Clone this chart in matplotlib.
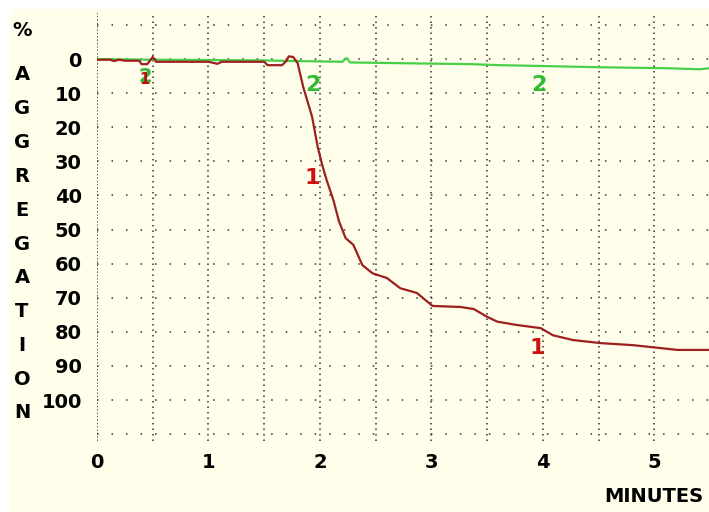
import matplotlib.pyplot as plt
from matplotlib.patches import Rectangle

# curve 1 (red) - aggregation trace
t1 = [0.0, 0.12, 0.15, 0.2, 0.25, 0.38, 0.4, 0.45, 0.5, 0.53, 0.6, 1.0, 1.08, 1.12, 1.5,
      1.53, 1.66, 1.7, 1.72, 1.76, 1.8, 1.85, 1.93, 1.98, 2.02, 2.06, 2.12, 2.17, 2.23,
      2.3, 2.38, 2.47, 2.6, 2.72, 2.87, 3.01, 3.26, 3.38, 3.5, 3.59, 3.77, 3.98, 4.09,
      4.27, 4.52, 4.81, 5.21, 5.49]
y1 = [0.2, 0.2, 0.6, 0.2, 0.5, 0.5, 1.5, 1.5, -0.6, 0.8, 0.8, 0.8, 1.4, 0.8, 0.8,
      1.8, 1.8, 0.5, -0.8, -0.6, 1.2, 8.2, 17.0, 25.8, 31.0, 35.5, 41.3, 47.5, 52.5,
      54.5, 60.4, 62.8, 64.2, 67.2, 68.6, 72.4, 72.7, 73.3, 75.6, 77.0, 78.0, 78.9, 81.0,
      82.4, 83.3, 83.9, 85.3, 85.3]

# curve 2 (green) - control trace
t2 = [0.0, 0.5, 1.0, 1.5, 1.8, 2.2, 2.24, 2.27, 2.69, 3.35, 3.62, 4.07, 4.49, 5.12, 5.41, 5.49]
y2 = [0.0, 0.2, 0.3, 0.4, 0.6, 0.8, -0.3, 1.0, 1.2, 1.5, 1.8, 2.1, 2.4, 2.7, 3.0, 2.7]

x_ticks = [0, 1, 2, 3, 4, 5]
y_ticks = [0, 10, 20, 30, 40, 50, 60, 70, 80, 90, 100]
y_letters = list("AGGREGATION")

bg = '#FFFEEA'
fnt = 'DejaVu Sans'

fig = plt.figure(figsize=(7.09, 5.12), dpi=100)
fig.patch.set_facecolor('white')
fig.patches.append(Rectangle((10 / 709, 0), 1, 1 - 9 / 512, transform=fig.transFigure,
                             facecolor=bg, edgecolor='none', zorder=-10))

ax = fig.add_axes([97 / 709, 1 - 441 / 512, 612 / 709, 428 / 512])
ax.set_facecolor(bg)
ax.set_xlim(0, 5.49)
ax.set_ylim(112, -13.5)
for s in ax.spines.values():
    s.set_visible(False)

# dotted grid
for gx in [i * 0.5 for i in range(11)]:
    ls = (0, (1, 1.2)) if gx == 0 else (0, (1, 2.6))
    ax.axvline(gx, color='#333333', lw=1.1, ls=ls, zorder=1)
for gy in range(-10, 111, 10):
    ax.axhline(gy, color='#333333', lw=1.1, ls=(0, (1, 8.5)), zorder=1)

ax.plot(t2, y2, color='#46D046', lw=1.6, zorder=3)
ax.plot(t1, y1, color='#9C2020', lw=1.6, zorder=4)

# curve labels
ax.text(0.43, 5.0, '2', color='#33BB33', fontsize=14, fontweight='bold', ha='center', va='center', zorder=5)
ax.text(0.43, 6.0, '1', color='#BB1111', fontsize=11, fontweight='bold', ha='center', va='center', zorder=5)
ax.text(1.94, 7.6, '2', color='#33BB33', fontsize=16, fontweight='bold', ha='center', va='center', zorder=5)
ax.text(3.96, 7.6, '2', color='#33BB33', fontsize=16, fontweight='bold', ha='center', va='center', zorder=5)
ax.text(1.93, 34.9, '1', color='#CC1111', fontsize=16, fontweight='bold', ha='center', va='center', zorder=5)
ax.text(3.95, 84.8, '1', color='#CC1111', fontsize=16, fontweight='bold', ha='center', va='center', zorder=5)

ax.set_xticks(x_ticks)
ax.set_xticklabels([str(v) for v in x_ticks], fontsize=14, fontweight='bold', family=fnt)
ax.set_yticks(y_ticks)
ax.set_yticklabels([str(v) for v in y_ticks], fontsize=14, fontweight='bold', family=fnt)
ax.tick_params(axis='both', length=0)
ax.tick_params(axis='y', pad=11)
ax.tick_params(axis='x', pad=9)

fig.text(703 / 709, 1 - 497 / 512, 'MINUTES', fontsize=14, fontweight='bold', family=fnt,
         ha='right', va='center')
fig.text(22 / 709, 1 - 31 / 512, '%', fontsize=14, fontweight='bold', family=fnt,
         ha='center', va='center')
for i, ch in enumerate(y_letters):
    fig.text(22 / 709, 1 - (75 + i * 33.8) / 512, ch, fontsize=14, fontweight='bold',
             family=fnt, ha='center', va='center')

fig.savefig('out.png', dpi=100, facecolor=fig.get_facecolor())
